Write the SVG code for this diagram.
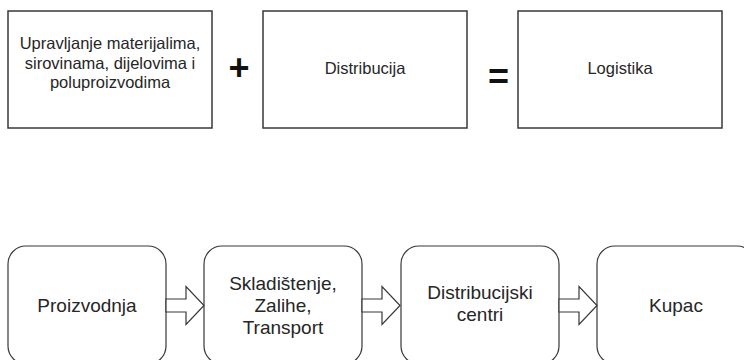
<svg xmlns="http://www.w3.org/2000/svg" width="744" height="360" viewBox="0 0 744 360">
<style>
.box{fill:#fff;stroke:#383838;stroke-width:1.5}
.rbox{fill:#fff;stroke:#383838;stroke-width:1.2}
.t{font-family:"Liberation Sans",Arial,sans-serif;fill:#262626;text-anchor:middle}
.ts{font-size:16.5px}
.tb{font-size:19px}
.op{font-family:"Liberation Sans",Arial,sans-serif;font-weight:bold;font-size:36px;fill:#111;text-anchor:middle}
.arr{fill:#fff;stroke:#383838;stroke-width:1.2;stroke-linejoin:miter}
</style>
<rect width="744" height="360" fill="#fff"/>
<g id="materijali">
<rect class="box" x="8" y="11" width="204" height="117"/>
<text class="t ts" x="110" y="49">Upravljanje materijalima,</text>
<text class="t ts" x="110" y="68.5">sirovinama, dijelovima i</text>
<text class="t ts" x="110" y="87.5">poluproizvodima</text>
</g>
<g id="plus"><text class="op" x="239" y="80">+</text></g>
<g id="distribucija">
<rect class="box" x="263" y="11" width="204" height="117"/>
<text class="t ts" x="365" y="74">Distribucija</text>
</g>
<g id="equals"><text class="op" x="498.5" y="89">=</text></g>
<g id="logistika">
<rect class="box" x="518" y="11" width="204" height="117"/>
<text class="t ts" x="620" y="74">Logistika</text>
</g>
<g id="proizvodnja">
<rect class="rbox" x="8" y="246" width="158" height="118" rx="18" ry="18"/>
<text class="t tb" x="87" y="311.5">Proizvodnja</text>
</g>
<g id="skladistenje">
<rect class="rbox" x="204" y="246" width="158" height="118" rx="18" ry="18"/>
<text class="t tb" x="283" y="289.5">Skladištenje,</text>
<text class="t tb" x="283" y="311.5">Zalihe,</text>
<text class="t tb" x="283" y="333.5">Transport</text>
</g>
<g id="centri">
<rect class="rbox" x="401" y="246" width="158" height="118" rx="18" ry="18"/>
<text class="t tb" x="480" y="298.5">Distribucijski</text>
<text class="t tb" x="480" y="320.5">centri</text>
</g>
<g id="kupac">
<rect class="rbox" x="597" y="246" width="158" height="118" rx="18" ry="18"/>
<text class="t tb" x="676" y="311.5">Kupac</text>
</g>
<g id="connectors">
<polygon class="arr" points="166,299 186,299 186,286.5 204,305.5 186,324.5 186,312 166,312"/>
<polygon class="arr" points="362,299 382,299 382,286.5 400,305.5 382,324.5 382,312 362,312"/>
<polygon class="arr" points="559,299 579,299 579,286.5 597,305.5 579,324.5 579,312 559,312"/>
</g>
</svg>
